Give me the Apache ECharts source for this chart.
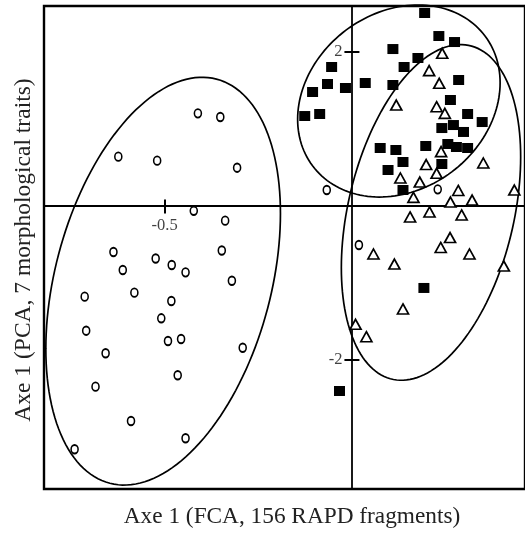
<!DOCTYPE html>
<html lang="en">
<head>
    <meta charset="UTF-8">
    <title>Axe 1 FCA vs PCA</title>
    <script src="https://cdn.jsdelivr.net/npm/echarts@6.0.0/dist/echarts.min.js"></script>
    <style>
        html, body { margin: 0; padding: 0; background: #fff; }
        #chart { width: 525px; height: 533px; }
    </style>
</head>
<body>
<div id="chart"></div>
<script>
    // open circles
    var circlePts = [
        [-0.411, 1.197], [-0.351, 1.149], [-0.624, 0.634], [-0.520, 0.582], [-0.306, 0.491],
        [-0.422, -0.069], [-0.338, -0.197], [-0.637, -0.604], [-0.524, -0.688], [-0.347, -0.584],
        [-0.612, -0.838], [-0.481, -0.773], [-0.444, -0.868], [-0.320, -0.977], [-0.714, -1.184],
        [-0.581, -1.132], [-0.482, -1.240], [-0.509, -1.465], [-0.710, -1.626], [-0.491, -1.760],
        [-0.456, -1.734], [-0.658, -1.919], [-0.291, -1.847], [-0.465, -2.205], [-0.685, -2.353],
        [-0.590, -2.799], [-0.444, -3.023], [-0.741, -3.166], [-0.066, 0.201], [0.231, 0.210],
        [0.020, -0.513]
    ];

    // filled squares
    var squarePts = [
        [0.196, 2.500], [0.234, 2.201], [0.276, 2.123], [0.111, 2.032], [0.178, 1.916],
        [0.141, 1.799], [-0.053, 1.799], [-0.064, 1.578], [-0.016, 1.526], [0.037, 1.591],
        [0.111, 1.565], [0.287, 1.630], [-0.104, 1.474], [-0.085, 1.188], [-0.125, 1.162],
        [0.265, 1.370], [0.311, 1.188], [0.350, 1.084], [0.242, 1.006], [0.273, 1.045],
        [0.300, 0.955], [0.077, 0.747], [0.119, 0.721], [0.199, 0.773], [0.258, 0.799],
        [0.281, 0.760], [0.311, 0.747], [0.138, 0.565], [0.098, 0.461], [0.242, 0.539],
        [0.138, 0.201], [0.194, -1.071], [-0.032, -2.409]
    ];

    // open triangles
    var trianglePts = [
        [0.243, 1.977], [0.208, 1.751], [0.235, 1.587], [0.120, 1.305], [0.228, 1.283],
        [0.250, 1.197], [0.240, 0.699], [0.200, 0.532], [0.228, 0.418], [0.131, 0.357],
        [0.183, 0.305], [0.353, 0.552], [0.166, 0.106], [0.286, 0.195], [0.265, 0.045],
        [0.323, 0.071], [0.436, 0.201], [0.157, -0.149], [0.209, -0.084], [0.295, -0.123],
        [0.264, -0.416], [0.239, -0.545], [0.316, -0.630], [0.059, -0.630], [0.115, -0.760],
        [0.408, -0.786], [0.138, -1.344], [0.011, -1.543], [0.040, -1.704]
    ];

    // group ellipses: centre x, centre y, half width, half height, correlation
    var ellipses = [
        [-0.504, -0.983, 0.314, 2.648, 0.332],
        [0.127, 1.357, 0.271, 1.247, 0.19],
        [0.213, -0.090, 0.240, 2.180, 0.33]
    ];

    var xTicks = [-0.5];
    var yTicks = [2, -2];

    var xMin = -0.8229, xMax = 0.4646;
    var yMin = -3.682, yMax = 2.591;

    var chart = echarts.init(document.getElementById('chart'));

    var tickFont = {
        show: true,
        fontFamily: 'Liberation Serif',
        fontSize: 16.5,
        color: '#111',
        formatter: function (p) { return String(p.data[2]); }
    };

    // tick labels sit on the zero lines, so they are placed through the scales
    var xTickLabels = xTicks.map(function (v) { return [v, 0, v]; });
    var yTickLabels = yTicks.map(function (v) { return [0, v, v]; });

    var option = {
        animation: false,
        backgroundColor: '#fff',
        grid: {
            left: 44, right: -4, top: 6, bottom: 44,
            show: true,
            borderColor: '#000',
            borderWidth: 2.4,
            backgroundColor: 'transparent'
        },
        xAxis: [
            {
                type: 'value', min: xMin, max: xMax, position: 'bottom',
                axisLine: { onZero: true, lineStyle: { color: '#000', width: 2 } },
                axisTick: { customValues: xTicks, length: 8, lineStyle: { color: '#000', width: 2 } },
                axisLabel: { show: false },
                splitLine: { show: false }
            },
            {
                type: 'value', min: xMin, max: xMax, position: 'top',
                axisLine: { onZero: true, show: false },
                axisTick: { customValues: xTicks, length: 6, lineStyle: { color: '#000', width: 2 } },
                axisLabel: { show: false },
                splitLine: { show: false }
            }
        ],
        yAxis: [
            {
                type: 'value', min: yMin, max: yMax, position: 'left',
                axisLine: { onZero: true, lineStyle: { color: '#000', width: 1.8 } },
                axisTick: { customValues: yTicks, length: 7, lineStyle: { color: '#000', width: 2 } },
                axisLabel: { show: false },
                splitLine: { show: false }
            },
            {
                type: 'value', min: yMin, max: yMax, position: 'right',
                axisLine: { onZero: true, show: false },
                axisTick: { customValues: yTicks, length: 8, lineStyle: { color: '#000', width: 2 } },
                axisLabel: { show: false },
                splitLine: { show: false }
            }
        ],
        graphic: [
            {
                type: 'text', x: 292, y: 517,
                style: {
                    text: 'Axe 1 (FCA, 156 RAPD fragments)',
                    fontFamily: 'Liberation Serif', fontSize: 23.3, fill: '#222',
                    textAlign: 'center', textVerticalAlign: 'middle'
                }
            },
            {
                type: 'text', x: 24, y: 250, rotation: Math.PI / 2,
                style: {
                    text: 'Axe 1 (PCA, 7 morphological traits)',
                    fontFamily: 'Liberation Serif', fontSize: 23.5, fill: '#222',
                    textAlign: 'center', textVerticalAlign: 'middle'
                }
            }
        ],
        series: [
            {
                type: 'custom',
                data: ellipses,
                silent: true,
                renderItem: function (params, api) {
                    var cx = api.value(0), cy = api.value(1);
                    var rx = api.value(2), ry = api.value(3), rho = api.value(4);
                    var k = Math.sqrt(1 - rho * rho);
                    var pts = [];
                    for (var i = 0; i < 160; i++) {
                        var t = i / 160 * Math.PI * 2;
                        pts.push(api.coord([
                            cx + rx * Math.cos(t),
                            cy + ry * (rho * Math.cos(t) + k * Math.sin(t))
                        ]));
                    }
                    return {
                        type: 'polygon',
                        shape: { points: pts },
                        style: { fill: 'none', stroke: '#000', lineWidth: 1.7 }
                    };
                }
            },
            {
                type: 'scatter',
                data: circlePts,
                symbol: 'circle',
                symbolSize: [7, 8.5],
                itemStyle: { color: '#fff', borderColor: '#000', borderWidth: 1.7, opacity: 1 }
            },
            {
                type: 'scatter',
                data: squarePts,
                symbol: 'rect',
                symbolSize: [11, 10],
                itemStyle: { color: '#000', opacity: 1 }
            },
            {
                type: 'scatter',
                data: trianglePts,
                symbol: 'triangle',
                symbolSize: [11, 10],
                itemStyle: { color: '#fff', borderColor: '#000', borderWidth: 1.7, opacity: 1 }
            },
            {
                type: 'scatter',
                data: xTickLabels,
                symbolSize: 0,
                silent: true,
                label: Object.assign({ position: 'bottom', distance: 12 }, tickFont)
            },
            {
                type: 'scatter',
                data: yTickLabels,
                symbolSize: 0,
                silent: true,
                label: Object.assign({ position: 'left', distance: 9 }, tickFont)
            }
        ]
    };

    chart.setOption(option);
</script>
</body>
</html>
